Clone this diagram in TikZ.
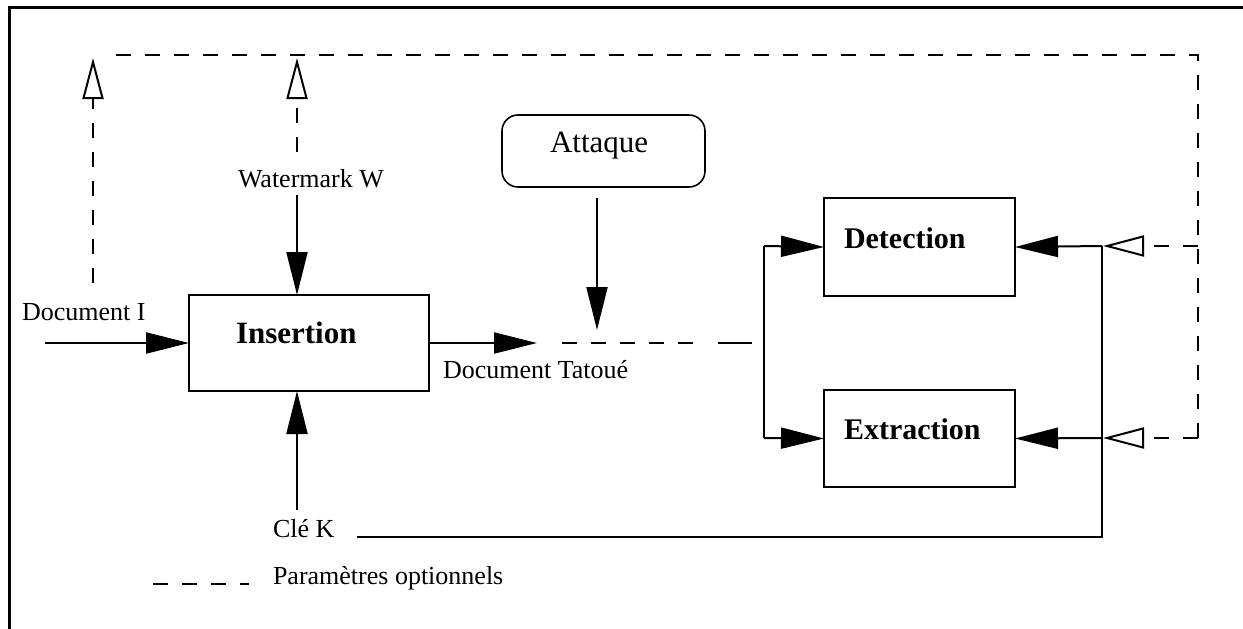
\documentclass[tikz,border=0pt]{standalone}
\usepackage{fontspec}
\setmainfont{Liberation Serif}
\usetikzlibrary{arrows.meta}
\begin{document}
\begin{tikzpicture}[x=1pt,y=-1pt,
  every node/.style={inner sep=0pt,outer sep=0pt},
  conn/.style={line width=2pt},
  farrow/.style={conn,-{Triangle[length=43pt,width=21pt]}},
  oarrow/.style={conn,dashed opt,-{Triangle[open,length=41pt,width=21pt,line width=2pt]}},
  dashed opt/.style={dash pattern=on 15pt off 14pt},
  box/.style={draw,line width=2.4pt,minimum width=#1,anchor=north west},
  lab/.style={anchor=base west,font=\fontsize{26}{30}\selectfont},
  blab/.style={anchor=base west,font=\fontsize{30}{34}\selectfont\bfseries}]
\useasboundingbox (0,0) rectangle (1243,629);
% frame
\draw[line width=3pt] (9,629) -- (9,7) -- (1243,7);

% boxes
\node[box=240pt,minimum height=96pt] (ins) at (189,295) {};
\node[box=191pt,minimum height=98pt] (det) at (824,198) {};
\node[box=191pt,minimum height=97pt] (ext) at (824,390) {};
\node[box=203pt,minimum height=72pt,rounded corners=16pt,line width=1.6pt] (att) at (502,115) {};

% texts
\node[blab,font=\fontsize{31}{34}\selectfont\bfseries] (insT) at (236,343) {Insertion};
\node[blab] (detT) at (844,248) {Detection};
\node[blab] (extT) at (844,439) {Extraction};
\node[lab,font=\fontsize{31}{34}\selectfont] (attT) at (550,152) {Attaque};
\node[lab] (docI) at (22,320) {Document I};
\node[lab] (wm) at (238,187) {Watermark W};
\node[lab] (tat) at (443,378) {Document Tatoué};
\node[lab] (cle) at (273,537) {Clé K};
\node[lab] (leg) at (273,584) {Paramètres optionnels};

% coordinates
\coordinate (docIn) at (45,343);
\coordinate (wmTop) at (297,195);
\coordinate (keyUp) at (297,510);
\coordinate (tatTip) at (537,343);
\coordinate (dashA) at (562,343);
\coordinate (dashB) at (704,343);
\coordinate (solA) at (718,343);
\coordinate (solB) at (752,343);
\coordinate (attA) at (597,198);
\coordinate (attB) at (597,330);
\coordinate (spT) at (764,246);
\coordinate (spB) at (764,438);
\coordinate (kT) at (1102,246);
\coordinate (kB) at (1102,438);
\coordinate (kL) at (357,537);
\coordinate (kR) at (1102,537);
\coordinate (oT) at (1198,246);
\coordinate (oB) at (1198,438);
\coordinate (oTop) at (1198,55);
\coordinate (oLeft) at (105,55);
\coordinate (tipT) at (1103,246);
\coordinate (tipB) at (1103,438);
\coordinate (upA1) at (93,283);
\coordinate (upA2) at (93,58);
\coordinate (upB1) at (297,152);
\coordinate (upB2) at (297,58);
\coordinate (legA) at (153,584);
\coordinate (legB) at (249,584);

% solid connectors
\draw[farrow] (docIn) -- (ins.west);
\draw[farrow] (wmTop) -- (wmTop |- ins.north);
\draw[farrow] (keyUp) -- (keyUp |- ins.south);
\draw[farrow] (ins.east) -- (tatTip);
\draw[farrow] (attA) -- (attB);
\draw[conn] (solA) -- (solB);
\draw[conn,dashed opt] (dashA) -- (dashB);
\draw[conn] (spT) -- (spB);
\draw[farrow] (spT) -- (det.west);
\draw[farrow] (spB) -- (ext.west);
\draw[farrow] (kT) -- (det.east);
\draw[farrow] (kB) -- (ext.east);
\draw[conn] (kL) -- (kR) -- (kT);

% dashed optional parameters
\draw[conn,dashed opt] (oB) -- (oTop) -- (oLeft);
\draw[oarrow] (oT) -- (tipT);
\draw[oarrow] (oB) -- (tipB);
\draw[oarrow] (upA1) -- (upA2);
\draw[oarrow] (upB1) -- (upB2);
\draw[conn,dashed opt] (legA) -- (legB);
\end{tikzpicture}
\end{document}
